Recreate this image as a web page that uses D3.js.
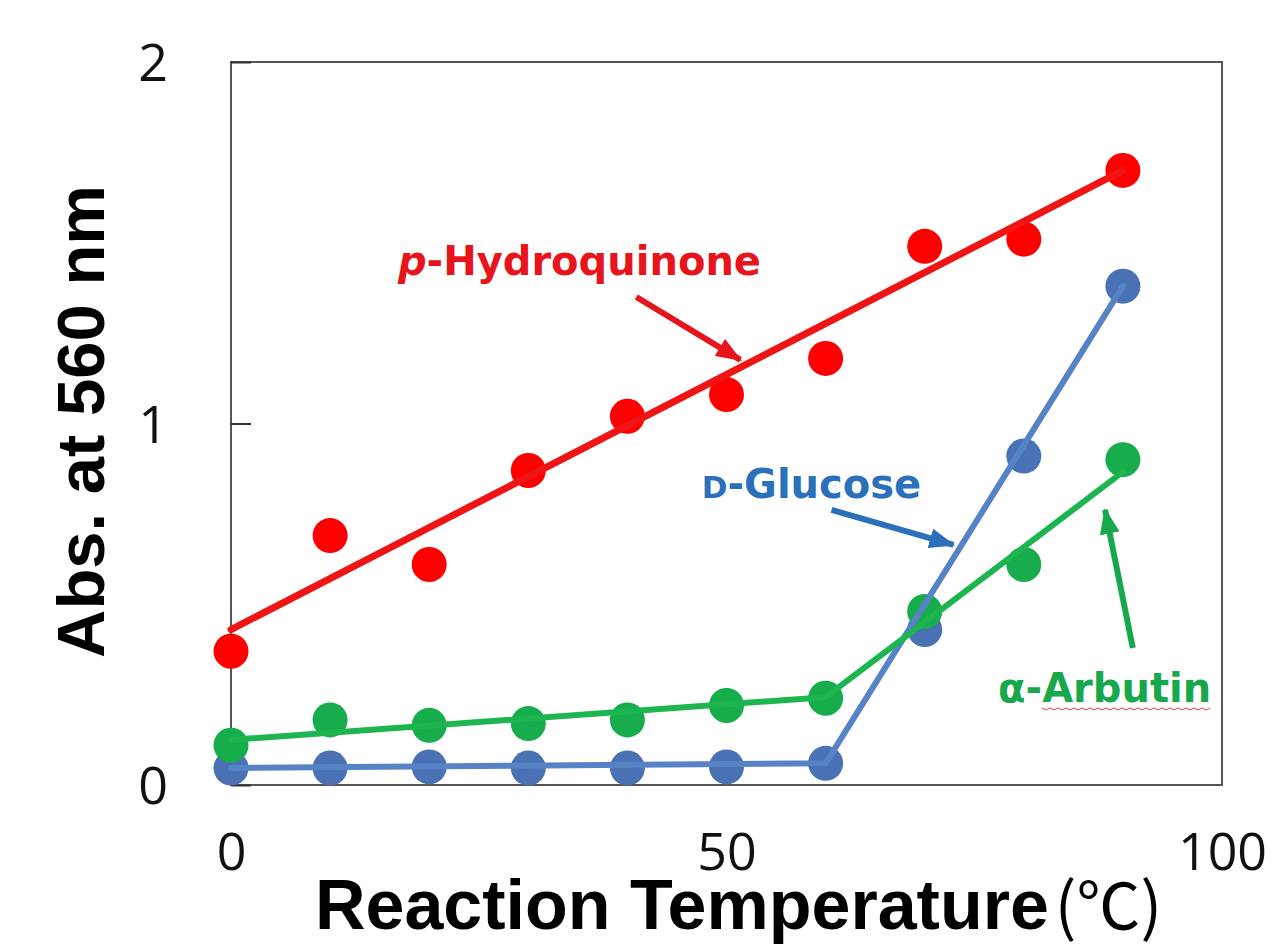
<!DOCTYPE html>
<meta charset="utf-8">
<style>
  body { margin: 0; background: #fff; }
  svg { display: block; }
</style>
<script src="https://d3js.org/d3.v7.min.js"></script>
<div id="chart"></div>
<script>

// temperatures (°C)
var temps = [0, 10, 20, 30, 40, 50, 60, 70, 80, 90];

// absorbance at 560 nm
var hydroquinone = [0.37, 0.69, 0.61, 0.87, 1.02, 1.08, 1.18, 1.49, 1.51, 1.70];
var glucose      = [0.047, 0.047, 0.05, 0.047, 0.047, 0.05, 0.06, 0.43, 0.91, 1.38];
var arbutin      = [0.11, 0.18, 0.165, 0.17, 0.18, 0.22, 0.24, 0.48, 0.61, 0.90];

// trend lines drawn through each series
var hydroFit   = [[0, 0.43], [90, 1.70]];
var glucoseFit = [[0, 0.047], [60, 0.06], [90, 1.38]];
var arbutinFit = [[0, 0.125], [60, 0.243], [90, 0.866]];

var xTicks = [0, 50, 100];
var yTicks = [0, 1, 2];

var W = 1278, H = 952;
var margin = {top: 62, right: 56, bottom: 167, left: 231};
var width = W - margin.left - margin.right,
    height = H - margin.top - margin.bottom;

var svg = d3.select("#chart").append("svg")
    .attr("width", W)
    .attr("height", H);

var defs = svg.append("defs");
var g = svg.append("g")
    .attr("transform", "translate(" + margin.left + "," + margin.top + ")");

var x = d3.scaleLinear().domain([0, 100]).range([0, width]);
var y = d3.scaleLinear().domain([0, 2]).range([height, 0]);

// frame
g.append("rect")
    .attr("width", width)
    .attr("height", height)
    .attr("fill", "#fff")
    .attr("stroke", "#555")
    .attr("stroke-width", 2);

// axes (labels + inward tick on the left)
var yAxis = g.append("g")
    .call(d3.axisLeft(y).tickValues(yTicks).tickSize(-20).tickPadding(63).tickFormat(d3.format("d")));
yAxis.select(".domain").remove();
yAxis.selectAll("line").attr("stroke", "#333").attr("stroke-width", 2);
yAxis.selectAll("text")
    .attr("font-family", "'Open Sans', sans-serif")
    .attr("font-size", 52)
    .attr("fill", "#111")
    .attr("dy", "0.36em");

var xAxis = g.append("g")
    .attr("transform", "translate(0," + height + ")")
    .call(d3.axisBottom(x).tickValues(xTicks).tickSize(0).tickPadding(48).tickFormat(d3.format("d")));
xAxis.select(".domain").remove();
xAxis.selectAll("text")
    .attr("font-family", "'Open Sans', sans-serif")
    .attr("font-size", 52)
    .attr("fill", "#111");

// axis titles
g.append("text")
    .attr("transform", "translate(" + (-127) + "," + (height / 2 - 2) + ")rotate(-90)")
    .attr("text-anchor", "middle")
    .attr("font-family", "'Liberation Sans', Arial, sans-serif")
    .attr("font-weight", "bold")
    .attr("font-size", 67)
    .attr("fill", "#000")
    .text("Abs. at 560 nm");

var xt = g.append("text")
    .attr("x", width / 2 + 12)
    .attr("y", height + 144)
    .attr("text-anchor", "middle")
    .attr("font-family", "'Liberation Sans', Arial, sans-serif")
    .attr("font-weight", "bold")
    .attr("font-size", 70)
    .attr("fill", "#000");
xt.append("tspan").text("Reaction Temperature");
xt.append("tspan")
    .attr("dx", 6)
    .attr("font-family", "'Noto Sans CJK JP', sans-serif")
    .attr("font-weight", "normal")
    .attr("font-size", 64)
    .text("(℃)");

var line = d3.line()
    .x(function(d) { return x(d[0]); })
    .y(function(d) { return y(d[1]); });

var series = [
  {name: "hydro",   values: hydroquinone, fit: hydroFit,   dot: "#ff0000", stroke: "#f01515", w: 7},
  {name: "glucose", values: glucose,      fit: glucoseFit, dot: "#4a71b4", stroke: "#5683c6", w: 6},
  {name: "arbutin", values: arbutin,      fit: arbutinFit, dot: "#17ad4c", stroke: "#1db550", w: 6}
];

// points first, trend lines on top
series.forEach(function(s) {
  g.append("g").selectAll("circle")
    .data(s.values)
    .enter()
    .append("circle")
      .attr("cx", function(d, i) { return x(temps[i]); })
      .attr("cy", function(d) { return y(d); })
      .attr("r", 17.5)
      .attr("fill", s.dot);
});
series.forEach(function(s) {
  g.append("path")
    .datum(s.fit)
    .attr("d", line)
    .attr("fill", "none")
    .attr("stroke", s.stroke)
    .attr("stroke-width", s.w)
    .attr("stroke-linejoin", "round")
    .attr("stroke-linecap", "round");
});

// annotations (positions in data units)
var notes = [
  {id: "r", color: "#e8141c", at: [16.85, 1.411], from: [40.9, 1.35], to: [51.4, 1.176]},
  {id: "b", color: "#2b70bb", at: [47.5, 0.794], from: [60.6, 0.761], to: [72.9, 0.664]},
  {id: "gr", color: "#17a84b", at: [77.4, 0.2296], from: [91.0, 0.379], to: [88.2, 0.761]}
];

notes.forEach(function(n) {
  defs.append("marker")
      .attr("id", "head-" + n.id)
      .attr("markerUnits", "userSpaceOnUse")
      .attr("viewBox", "0 0 26 20")
      .attr("refX", 24)
      .attr("refY", 10)
      .attr("markerWidth", 26)
      .attr("markerHeight", 20)
      .attr("orient", "auto")
    .append("path")
      .attr("d", "M0,0L26,10L0,20Z")
      .attr("fill", n.color);

  g.append("line")
      .attr("x1", x(n.from[0])).attr("y1", y(n.from[1]))
      .attr("x2", x(n.to[0])).attr("y2", y(n.to[1]))
      .attr("stroke", n.color)
      .attr("stroke-width", 6)
      .attr("marker-end", "url(#head-" + n.id + ")");
});

var labelFont = "'DejaVu Sans', Verdana, sans-serif";

var t1 = g.append("text")
    .attr("x", x(notes[0].at[0]))
    .attr("y", y(notes[0].at[1]))
    .attr("font-family", labelFont)
    .attr("font-weight", "bold")
    .attr("font-size", 40)
    .attr("fill", notes[0].color);
t1.append("tspan").attr("font-style", "italic").text("p");
t1.append("tspan").text("-Hydroquinone");

var t2 = g.append("text")
    .attr("x", x(notes[1].at[0]))
    .attr("y", y(notes[1].at[1]))
    .attr("font-family", labelFont)
    .attr("font-weight", "bold")
    .attr("font-size", 40)
    .attr("fill", notes[1].color);
t2.append("tspan").attr("font-size", 31).text("D");
t2.append("tspan").text("-Glucose");

var t3 = g.append("text")
    .attr("x", x(notes[2].at[0]))
    .attr("y", y(notes[2].at[1]))
    .attr("font-family", labelFont)
    .attr("font-weight", "bold")
    .attr("font-size", 40)
    .attr("fill", notes[2].color);
t3.append("tspan").text("α-");
var arb = t3.append("tspan").text("Arbutin");

// spell-check squiggle under "Arbutin"
var bb = arb.node().getBBox();
var sq = d3.range(0, Math.floor(bb.width / 4) + 1).map(function(i) {
  return [bb.x + i * 4, y(notes[2].at[1]) + 6 + (i % 2 ? 2 : 0)];
});
g.append("path")
    .attr("d", d3.line()(sq))
    .attr("fill", "none")
    .attr("stroke", "#e04040")
    .attr("stroke-width", 1);

</script>
